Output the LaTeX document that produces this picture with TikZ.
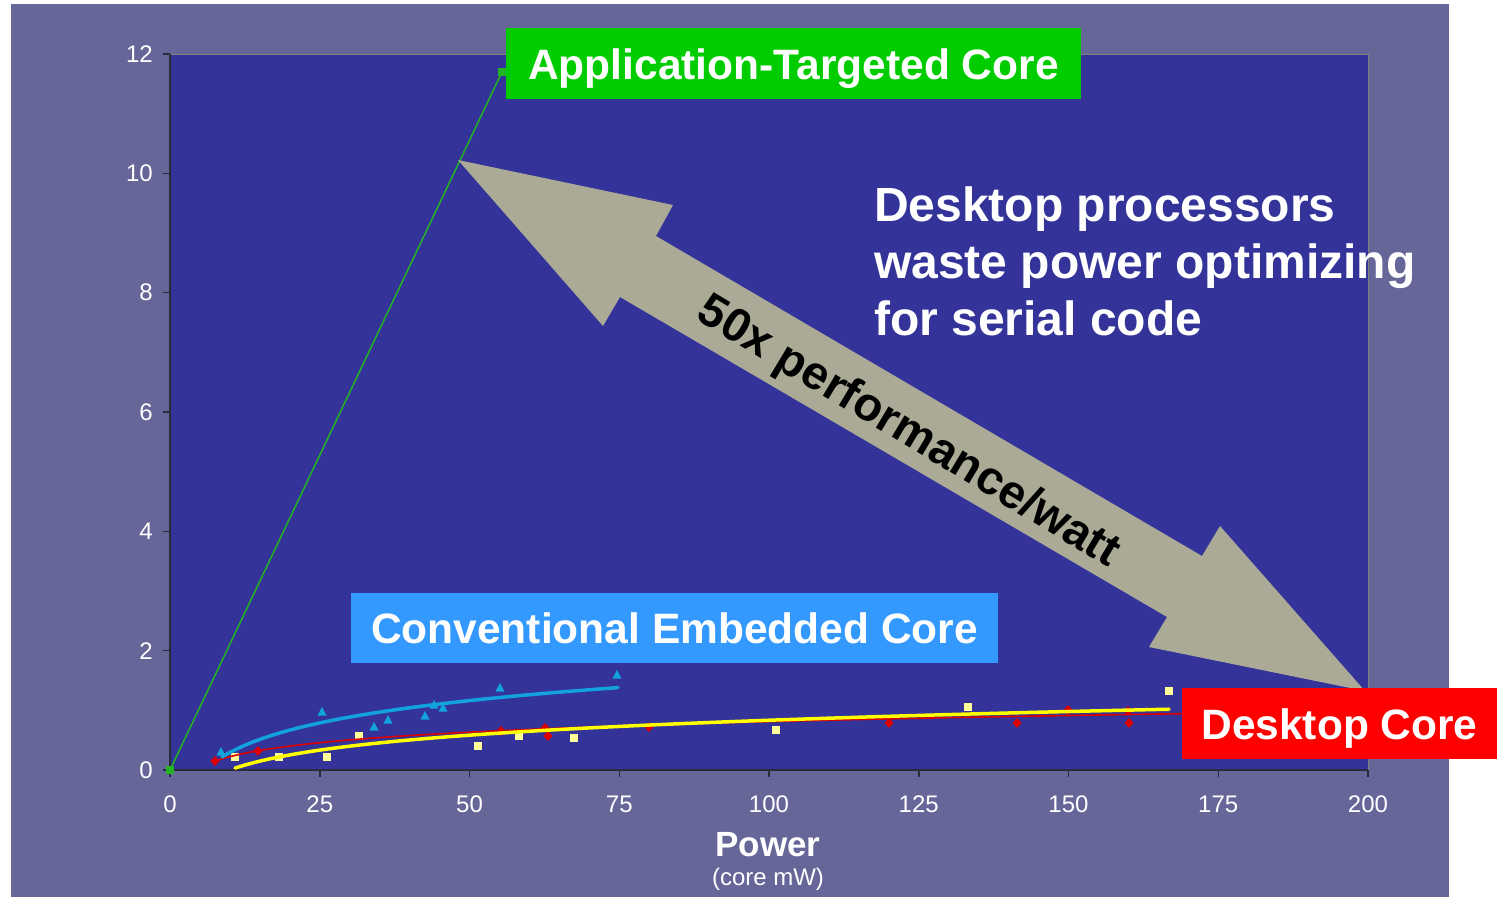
\documentclass[tikz,border=0pt]{standalone}
\usepackage{fontspec}
\setmainfont{Liberation Sans}
\definecolor{framebg}{HTML}{666699}
\definecolor{plotbg}{HTML}{333399}
\definecolor{arrowgray}{HTML}{AAAA97}
\definecolor{atcgreen}{HTML}{00CC00}
\definecolor{cecblue}{HTML}{3399FF}
\definecolor{dcred}{HTML}{FF0000}
\definecolor{ceccyan}{HTML}{12A2DE}
\definecolor{dcyellow}{HTML}{FFFF00}
\definecolor{sqyellow}{HTML}{FFFF99}
\definecolor{dcdiamond}{HTML}{DD0000}
\definecolor{atcline}{HTML}{22B422}
\definecolor{axisdark}{HTML}{2A2A3A}
\begin{document}
\begin{tikzpicture}[x=1pt,y=-1pt,
  axisline/.style={draw=axisdark, line width=1.5pt},
  ticklabel/.style={text=white, font=\fontsize{24}{28}\selectfont, inner sep=0pt},
  corebox/.style={text=white, font=\fontsize{42.5}{50}\selectfont\bfseries,
                  inner sep=0pt, text height=31pt, text depth=0pt},
  bigtext/.style={text=white, font=\fontsize{48}{56}\selectfont\bfseries, inner sep=0pt},
  fitline/.style={line cap=round, line join=round}]
\useasboundingbox (0,0) rectangle (1497,897);
\fill[white] (0,0) rectangle (1497,897);
% slide frame and plot area
\fill[framebg] (11,4) rectangle (1449,897);
\fill[plotbg] (170,54) rectangle (1368,770);
\draw[gray, line width=1pt] (170,54) -- (1368,54) -- (1368,770);
\draw[axisline] (170,54) -- (170,770) -- (1368,770);
% y axis ticks and labels
\foreach \v in {0,2,...,12} {
  \draw[axisline] (163,{770-\v*59.667}) -- (170,{770-\v*59.667});
  \node[ticklabel, anchor=east] (y\v) at (153,{770-\v*59.667}) {\v};
}
% x axis ticks and labels
\foreach \v in {0,25,...,200} {
  \draw[axisline] ({170+\v*5.99},770) -- ({170+\v*5.99},777);
  \node[ticklabel] (x\v) at ({170+\v*5.99},804) {\v};
}
\node[text=white, font=\fontsize{35}{40}\selectfont\bfseries, anchor=base, inner sep=0pt] (pw) at (768,856) {Power};
\node[text=white, font=\fontsize{24}{28}\selectfont, anchor=base, inner sep=0pt] (pwunit) at (768,885) {(core mW)};
% application-targeted core series
\draw[atcline, line width=1.5pt] (170,770) -- (502,72);
\fill[atcline] (166,766) rectangle (174,774);
\fill[atcline] (498,68) rectangle (506,76);
% desktop core markers
\foreach \a/\b in {215/761,258/751,501/731,545/728,548/736,649/727,889/723,1017/723,1068/710,1128/711,1129/723}
  \fill[dcdiamond] (\a,\b) ++(0,-5) -- ++(4.5,5) -- ++(-4.5,5) -- ++(-4.5,-5) -- cycle;
% yellow square markers
\foreach \a/\b in {235/757,279/757,327/757,359/736,478/746,519/736,574/738,776/730,968/707,1169/691}
  \fill[sqyellow] (\a-4,\b-4) rectangle (\a+4,\b+4);
% embedded core markers
\foreach \a/\b in {221/752,322/712,374/727,388/720,425/716,434/705,443/708,500/688,617/675}
  \fill[ceccyan] (\a,\b) ++(0,-5) -- ++(4.5,8.5) -- ++(-9,0) -- cycle;
% logarithmic trend lines
\draw[fitline, dcdiamond, line width=1.6pt] plot[domain=215:1188, samples=80]
  (\x,{770-59.667*(0.151+0.2546*ln((\x-170)/44.9))});
\draw[fitline, dcyellow, line width=3.5pt] plot[domain=235:1169, samples=80]
  (\x,{770-59.667*(0.034+0.361*ln((\x-170)/65.3))});
\draw[fitline, ceccyan, line width=3.5pt] plot[domain=222:618, samples=60]
  (\x,{770-59.667*(0.218+0.54*ln((\x-170)/52.0))});
% double-headed comparison arrow
\fill[arrowgray] (458,160) -- (673,205) -- (656,236) -- (1202,556) -- (1220,526)
  -- (1365,691) -- (1149,647) -- (1167,617) -- (620,297) -- (603,326) -- cycle;
\node[font=\fontsize{47}{54}\selectfont\bfseries, text=black, rotate=-31, inner sep=0pt] (ratio) at (908,433) {50x performance/watt};
% commentary
\node[bigtext, anchor=base west] (d1) at (874,221) {Desktop processors};
\node[bigtext, anchor=base west] (d2) at (874,278) {waste power optimizing};
\node[bigtext, anchor=base west] (d3) at (874,335) {for serial code};
% series labels
\node[corebox, fill=atcgreen, minimum width=575pt, minimum height=71pt] (atc) at (793.5,63.5) {Application-Targeted Core};
\node[corebox, fill=cecblue, minimum width=647pt, minimum height=70pt] (cec) at (674.5,628) {Conventional Embedded Core};
\node[corebox, fill=dcred, minimum width=315pt, minimum height=71pt] (dc) at (1339.5,723.5) {Desktop Core};
\end{tikzpicture}
\end{document}
